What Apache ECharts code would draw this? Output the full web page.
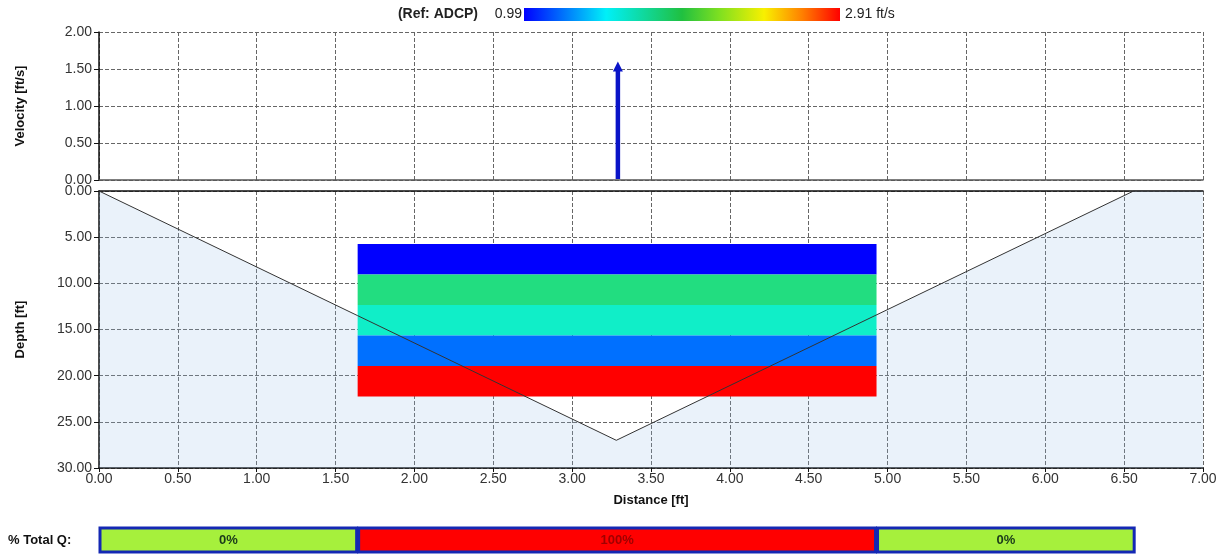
<!DOCTYPE html>
<html>
<head>
<meta charset="utf-8">
<script src="https://cdn.jsdelivr.net/npm/echarts@6/dist/echarts.min.js"></script>
<style>
html, body { margin: 0; padding: 0; background: #fff; }
#main { width: 1228px; height: 554px; }
</style>
</head>
<body>
<div id="main"></div>
<script>
// channel cross-section (distance ft, depth ft)
var bankPoints = [[0, 0], [3.28, 27], [6.56, 0], [7, 0]];
// measured velocity cells
var cellLeft = 1.64;
var cellRight = 4.93;
var cellTops = [5.75, 9.05, 12.35, 15.65, 18.95];
var cellBottoms = [9.05, 12.35, 15.65, 18.95, 22.25];
var cellColors = ['#0000ff', '#22dd80', '#10eec8', '#0070ff', '#ff0000'];
// mean velocity arrow
var arrowX = 3.29;
var arrowVelocity = 1.6;
// % total Q per section
var qStarts = [0, 1.64, 4.93];
var qEnds = [1.64, 4.93, 6.57];
var qPercent = [0, 100, 0];
var qColors = ['#a6f03c', '#ff0000', '#a6f03c'];
var qTextColors = ['#1a3a1a', '#a00000', '#1a3a1a'];
var refMin = '0.99';
var refMax = '2.91 ft/s';

var font = 'Liberation Sans, Arial, sans-serif';
var dom = document.getElementById('main');
var myChart = echarts.init(dom);

function fmt2(v) { return v.toFixed(2); }

var cellData = cellTops.map(function (t, i) { return [cellLeft, cellRight, t, cellBottoms[i]]; });
var qData = qStarts.map(function (s, i) { return [s, qEnds[i], qPercent[i]]; });

var labelStyle = { color: '#333', fontSize: 14, fontFamily: font, formatter: fmt2 };
var split = { show: true, lineStyle: { color: '#666', type: [4, 2], width: 1 } };
var nameStyle = { color: '#111', fontSize: 13, fontWeight: 'bold', fontFamily: font };

var option = {
    animation: false,
    textStyle: { fontFamily: font },
    graphic: [
        { type: 'text', x: 478, y: 14, style: { text: '(Ref: ADCP)', font: 'bold 14px ' + font, fill: '#222', align: 'right', verticalAlign: 'middle' } },
        { type: 'text', x: 522, y: 14, style: { text: refMin, font: '14px ' + font, fill: '#222', align: 'right', verticalAlign: 'middle' } },
        { type: 'rect', shape: { x: 524, y: 8, width: 316, height: 13 },
          style: { fill: new echarts.graphic.LinearGradient(0, 0, 1, 0, [
              { offset: 0, color: '#0000ff' },
              { offset: 0.26, color: '#00f0f8' },
              { offset: 0.5, color: '#20c040' },
              { offset: 0.62, color: '#80e020' },
              { offset: 0.76, color: '#f8f000' },
              { offset: 0.88, color: '#ff8000' },
              { offset: 1, color: '#ff0000' }
          ]) } },
        { type: 'text', x: 845, y: 14, style: { text: refMax, font: '14px ' + font, fill: '#222', verticalAlign: 'middle' } },
        { type: 'text', x: 8, y: 540, style: { text: '% Total Q:', font: 'bold 13px ' + font, fill: '#111', verticalAlign: 'middle' } }
    ],
    grid: [
        { left: 99, right: 25, top: 32, height: 148 },
        { left: 99, right: 25, top: 191, height: 277 },
        { left: 99, right: 25, top: 527, height: 26 }
    ],
    xAxis: [
        { gridIndex: 0, type: 'value', min: 0, max: 7, interval: 0.5,
          axisLine: { show: true, onZero: true, lineStyle: { color: '#555', width: 1.5 } },
          axisTick: { show: false }, axisLabel: { show: false }, splitLine: split },
        { gridIndex: 1, type: 'value', min: 0, max: 7, interval: 0.5, position: 'bottom',
          axisLine: { show: true, onZero: false, lineStyle: { color: '#111', width: 1.5 } },
          axisTick: { show: true, length: 4, lineStyle: { color: '#111' } },
          axisLabel: Object.assign({ margin: 4 }, labelStyle), splitLine: split,
          name: 'Distance [ft]', nameLocation: 'middle', nameGap: 26, nameTextStyle: nameStyle },
        { gridIndex: 1, type: 'value', min: 0, max: 7, position: 'top',
          axisLine: { show: true, onZero: false, lineStyle: { color: '#111', width: 1.5 } },
          axisTick: { show: false }, axisLabel: { show: false }, splitLine: { show: false } },
        { gridIndex: 2, type: 'value', min: 0, max: 7, show: false }
    ],
    yAxis: [
        { gridIndex: 0, type: 'value', min: 0, max: 2, interval: 0.5,
          axisLine: { show: true, lineStyle: { color: '#111', width: 1.5 } },
          axisTick: { show: true, length: 5, lineStyle: { color: '#111' } },
          axisLabel: Object.assign({ margin: 7 }, labelStyle), splitLine: split,
          name: 'Velocity [ft/s]', nameLocation: 'middle', nameGap: 72, nameTextStyle: nameStyle },
        { gridIndex: 1, type: 'value', min: 0, max: 30, interval: 5, inverse: true,
          axisLine: { show: true, lineStyle: { color: '#111', width: 1.5 } },
          axisTick: { show: true, length: 5, lineStyle: { color: '#111' } },
          axisLabel: Object.assign({ margin: 7 }, labelStyle), splitLine: split,
          name: 'Depth [ft]', nameLocation: 'middle', nameGap: 72, nameTextStyle: nameStyle },
        { gridIndex: 2, type: 'value', min: 0, max: 1, show: false }
    ],
    series: [
        { type: 'line', xAxisIndex: 1, yAxisIndex: 1, data: bankPoints, symbol: 'none', z: 1,
          lineStyle: { width: 0 }, areaStyle: { origin: 'end', color: 'rgba(150,190,230,0.28)' } },
        { type: 'custom', xAxisIndex: 1, yAxisIndex: 1, data: cellData, z: 2,
          renderItem: function (params, api) {
              var p0 = api.coord([api.value(0), api.value(2)]);
              var p1 = api.coord([api.value(1), api.value(3)]);
              return { type: 'rect', shape: { x: p0[0], y: p0[1], width: p1[0] - p0[0], height: p1[1] - p0[1] },
                       style: { fill: cellColors[params.dataIndex] } };
          } },
        { type: 'line', xAxisIndex: 1, yAxisIndex: 1, data: bankPoints, symbol: 'none', z: 3,
          lineStyle: { color: '#333', width: 1 } },
        { type: 'custom', xAxisIndex: 0, yAxisIndex: 0, data: [[arrowX, arrowVelocity]], z: 3,
          renderItem: function (params, api) {
              var base = api.coord([api.value(0), 0]);
              var tip = api.coord([api.value(0), api.value(1)]);
              return { type: 'group', children: [
                  { type: 'line', shape: { x1: base[0], y1: base[1] - 1, x2: tip[0], y2: tip[1] + 8 },
                    style: { stroke: '#0a14c8', lineWidth: 4.5 } },
                  { type: 'polygon', shape: { points: [[tip[0], tip[1]], [tip[0] - 5, tip[1] + 10], [tip[0] + 5, tip[1] + 10]] },
                    style: { fill: '#0a14c8' } }
              ] };
          } },
        { type: 'custom', xAxisIndex: 3, yAxisIndex: 2, data: qData, z: 3,
          renderItem: function (params, api) {
              var p0 = api.coord([api.value(0), 1]);
              var p1 = api.coord([api.value(1), 0]);
              var i = params.dataIndex;
              return { type: 'rect',
                       shape: { x: p0[0] + 1, y: p0[1] + 1, width: p1[0] - p0[0] - 2, height: p1[1] - p0[1] - 2 },
                       style: { fill: qColors[i], stroke: '#1428b4', lineWidth: 3 },
                       textContent: { style: { text: api.value(2) + '%', fill: qTextColors[i], font: 'bold 13px ' + font } },
                       textConfig: { position: 'inside' } };
          } }
    ]
};

if (option && typeof option === 'object') {
    myChart.setOption(option, true);
}
</script>
</body>
</html>
